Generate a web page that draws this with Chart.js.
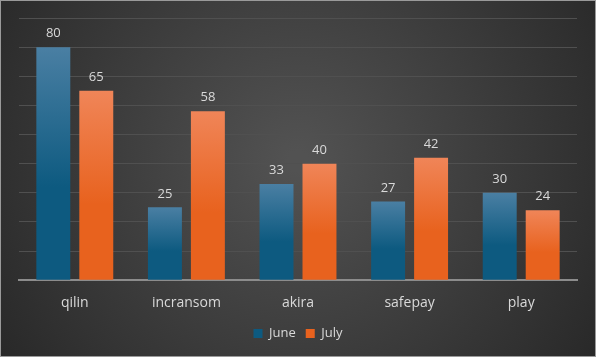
<!DOCTYPE html>
<html><head><meta charset="utf-8">
<script src="https://cdn.jsdelivr.net/npm/chart.js@4/dist/chart.umd.min.js"></script>
<style>html,body{margin:0;padding:0;background:#2b2b2b;}#wrap{width:596px;height:357px;position:relative;}</style>
</head><body><div id="wrap"><canvas id="c" width="596" height="357"></canvas></div>
<script>
const categories = ['qilin','incransom','akira','safepay','play'];
const june = [80,25,33,27,30];
const july = [65,58,40,42,24];
const seriesNames = ['June','July'];

function barGrad(ctx, light, dark){
  const chart = ctx.chart;
  if(!chart.chartArea || ctx.type !== 'data') return dark;
  const y = chart.scales.y;
  const top = y.getPixelForValue(ctx.raw), base = y.getPixelForValue(0);
  const g = chart.ctx.createLinearGradient(0, top, 0, base);
  g.addColorStop(0, light); g.addColorStop(0.6, dark); g.addColorStop(1, dark);
  return g;
}
const bgPlugin = {
  id:'bg',
  beforeDraw(chart){
    const c = chart.ctx, w = chart.width, h = chart.height;
    c.save();
    const g = c.createRadialGradient(w*0.5,h*0.45,10,w*0.5,h*0.45,w*0.62);
    g.addColorStop(0,'#525252'); g.addColorStop(1,'#272727');
    c.fillStyle = g; c.fillRect(0,0,w,h);
    c.strokeStyle = '#9a9a9a'; c.lineWidth = 1; c.strokeRect(0.5,0.5,w-1,h-1);
    c.restore();
  }
};
const labelPlugin = {
  id:'vals',
  afterDatasetsDraw(chart){
    const c = chart.ctx;
    c.save();
    c.fillStyle = '#d9d9d9';
    c.font = '13px "Open Sans", sans-serif';
    c.textAlign = 'center'; c.textBaseline = 'bottom';
    chart.data.datasets.forEach((ds,i)=>{
      chart.getDatasetMeta(i).data.forEach((bar,j)=>{
        c.fillText(String(ds.data[j]), bar.x, bar.y - 7);
      });
    });
    c.restore();
  }
};
new Chart(document.getElementById('c'), {
  type:'bar',
  data:{
    labels: categories,
    datasets:[
      {label:seriesNames[0], data:june, backgroundColor:(ctx)=>barGrad(ctx,'#4a7fa3','#0d5a80'), borderWidth:0, categoryPercentage:0.77, barPercentage:0.79},
      {label:seriesNames[1], data:july, backgroundColor:(ctx)=>barGrad(ctx,'#f08558','#e8621e'), borderWidth:0, categoryPercentage:0.77, barPercentage:0.79}
    ]
  },
  options:{
    responsive:false, animation:false, devicePixelRatio:1,
    layout:{padding:{left:19,right:19,top:18,bottom:7}},
    plugins:{
      legend:{position:'bottom', labels:{color:'#d9d9d9', boxWidth:9, boxHeight:9, padding:10, font:{family:'"Open Sans", sans-serif', size:13}}},
      tooltip:{enabled:false}
    },
    scales:{
      x:{grid:{display:false}, border:{color:'#8c8c8c', width:2}, ticks:{color:'#d9d9d9', padding:6, font:{family:'"Open Sans", sans-serif', size:14}}},
      y:{min:0, max:90, ticks:{display:false, stepSize:10}, grid:{color:'#505050', drawTicks:false}, border:{display:false}}
    }
  },
  plugins:[bgPlugin,labelPlugin]
});
</script></body></html>
